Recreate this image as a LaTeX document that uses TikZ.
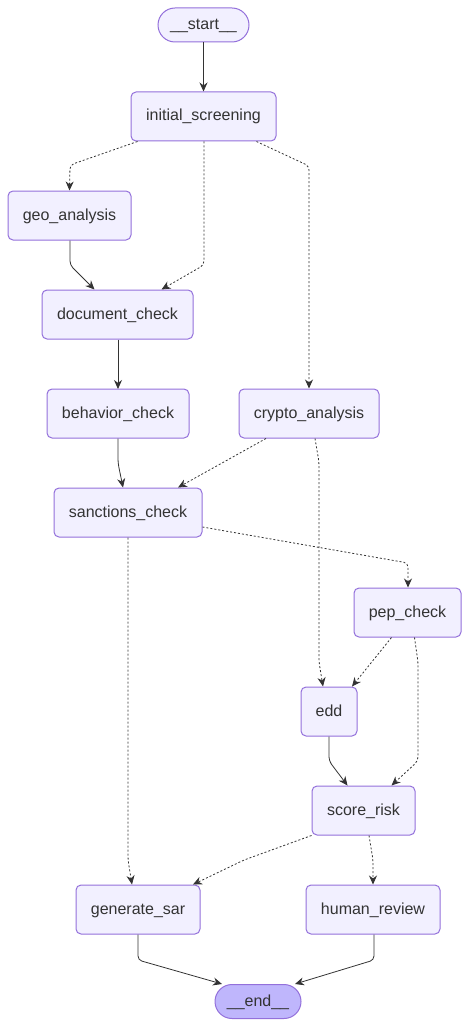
\documentclass[tikz,border=0pt]{standalone}
\usepackage{fontspec}
\setmainfont{Liberation Sans}
\usetikzlibrary{arrows.meta}
\definecolor{nodefill}{HTML}{F2F0FF}
\definecolor{nodeborder}{HTML}{9370DB}
\definecolor{endfill}{HTML}{BFB6FC}
\definecolor{edgecol}{HTML}{333333}
\tikzset{
  box/.style={draw=nodeborder, fill=nodefill, rounded corners=5pt, line width=1pt,
    minimum height=49pt, inner sep=0pt, text=edgecol, text height=12pt, text depth=3pt,
    font=\fontsize{16}{19}\selectfont},
  pill/.style={box, rounded corners=17pt, minimum height=34pt},
  edgeS/.style={draw=edgecol, line width=0.8pt, rounded corners=4pt,
    -{Stealth[length=9pt,width=8pt]}},
  edgeD/.style={edgeS, dash pattern=on 2pt off 2pt},
}
\begin{document}
\begin{tikzpicture}[x=1pt,y=-1pt]
\useasboundingbox (0,0) rectangle (470,1027);
\node[pill, minimum width=91pt] (start) at (203.5,25) {\_\_start\_\_};
\node[box, minimum width=145pt] (is) at (203.5,116.5) {initial\_screening};
\node[box, minimum width=123pt] (geo) at (69.5,215.5) {geo\_analysis};
\node[box, minimum width=151pt] (doc) at (117.5,314.5) {document\_check};
\node[box, minimum width=142pt] (beh) at (118,413.5) {behavior\_check};
\node[box, minimum width=140pt] (cry) at (309,413.5) {crypto\_analysis};
\node[box, minimum width=148pt] (san) at (128,512.5) {sanctions\_check};
\node[box, minimum width=107pt] (pep) at (407.5,612.5) {pep\_check};
\node[box, minimum width=56pt] (edd) at (329,711.5) {edd};
\node[box, minimum width=103pt] (score) at (363.5,810.5) {score\_risk};
\node[box, minimum width=124pt] (sar) at (138,909.5) {generate\_sar};
\node[box, minimum width=134pt] (hum) at (373,909.5) {human\_review};
\node[pill, minimum width=86pt, fill=endfill] (end) at (258,1001.5) {\_\_end\_\_};

\draw[edgeS] (start.south) -- (is.north);
\draw[edgeD] ([xshift=-66pt]is.south) -- (70,165) -- (geo.north);
\draw[edgeD] ([xshift=0.5pt]is.south) -- (204,265) -- ([xshift=44pt]doc.north);
\draw[edgeD] ([xshift=53pt]is.south) -- (309,166) -- (cry.north);
\draw[edgeS] ([xshift=0.5pt]geo.south) -- (70,265) -- ([xshift=-23pt]doc.north);
\draw[edgeS] ([xshift=0.5pt]doc.south) -- (118,389);
\draw[edgeS] (beh.south) -- (118,463) -- ([xshift=-5pt]san.north);
\draw[edgeD] ([xshift=-43pt]cry.south) -- ([xshift=50pt]san.north);
\draw[edgeD] ([xshift=6pt]cry.south) -- (319,462) -- (319,662) -- ([xshift=-6pt]edd.north);
\draw[edgeD] (san.east |- 0,527) -- (408,563) -- ([xshift=0.5pt]pep.north);
\draw[edgeD] (san.south) -- (128,860) -- ([xshift=-6pt]sar.north);
\draw[edgeD] ([xshift=-16pt]pep.south) -- ([xshift=23pt]edd.north);
\draw[edgeD] ([xshift=7pt]pep.south) -- (418,662) -- (418,761) -- ([xshift=28pt]score.north);
\draw[edgeS] (edd.south) -- (329,761) -- ([xshift=-16pt]score.north);
\draw[edgeD] (score.south west) -- (244,860) -- ([xshift=55pt]sar.north);
\draw[edgeD] ([xshift=5.5pt]score.south) -- (373,860) -- (hum.north);
\draw[edgeS] (sar.south) -- (138,960) -- ([xshift=-36pt]end.north);
\draw[edgeS] ([xshift=1pt]hum.south) -- (374,960) -- ([xshift=37pt]end.north);
\end{tikzpicture}
\end{document}
